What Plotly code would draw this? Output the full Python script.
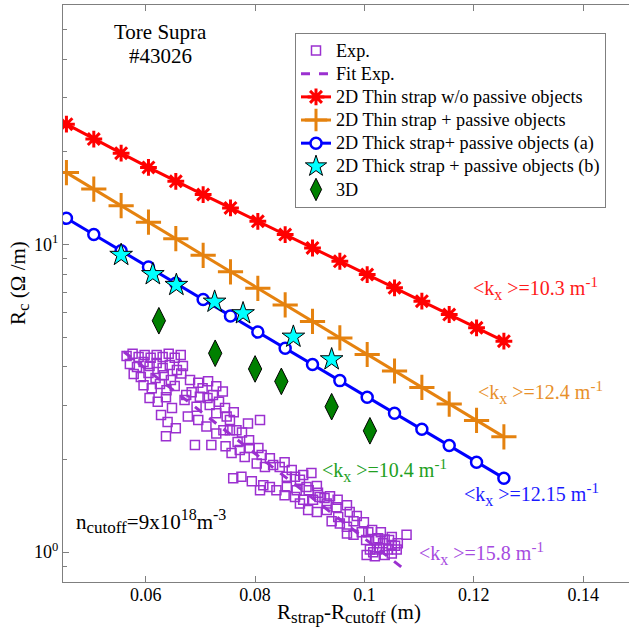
import plotly.graph_objects as go

# ---------------- data ----------------
d_sim = [0.0455, 0.0505, 0.0555, 0.0605, 0.0655, 0.0705, 0.0755, 0.0805, 0.0855,
         0.0905, 0.0955, 0.1005, 0.1055, 0.1105, 0.1155, 0.1205, 0.1255]
rc_thin_nopassive = [24.6, 22.0, 19.8, 17.8, 16.04, 14.52, 13.14, 11.89, 10.77, 9.74,
                     8.82, 7.98, 7.23, 6.54, 5.92, 5.36, 4.85]
rc_thin_passive = [17.12, 15.13, 13.37, 11.81, 10.44, 9.22, 8.15, 7.20, 6.36, 5.62,
                   4.97, 4.39, 3.88, 3.43, 3.03, 2.68, 2.37]
rc_thick_a = [12.16, 10.77, 9.54, 8.45, 7.48, 6.62, 5.86, 5.19, 4.60, 4.07, 3.61,
              3.19, 2.83, 2.51, 2.22, 1.96, 1.74]

d_thick_b = [0.0555, 0.0613, 0.0656, 0.0726, 0.0778, 0.0870, 0.0940]
rc_thick_b = [9.24, 8.00, 7.38, 6.51, 5.97, 5.01, 4.23]

d_3d = [0.0624, 0.0727, 0.0800, 0.0848, 0.0940, 0.1010]
rc_3d = [5.65, 4.43, 3.94, 3.59, 2.97, 2.48]

d_fit = [0.0560, 0.1080]
rc_fit = [4.48, 0.86]

d_exp = [0.0565, 0.0576, 0.0587, 0.0598, 0.0609, 0.0620, 0.0631, 0.0642, 0.0653, 0.0664,
         0.0571, 0.0584, 0.0596, 0.0607, 0.0620, 0.0631, 0.0644, 0.0657, 0.0668,
         0.0578, 0.0591, 0.0605, 0.0618, 0.0633, 0.0646,
         0.0596, 0.0611, 0.0626, 0.0638, 0.0653,
         0.0607, 0.0622, 0.0637, 0.0648, 0.0628, 0.0640, 0.0655, 0.0637,
         0.0665, 0.0681, 0.0696, 0.0714, 0.0729, 0.0741, 0.0674, 0.0699, 0.0723, 0.0693,
         0.0717, 0.0677, 0.0696, 0.0711, 0.0729, 0.0748, 0.0754, 0.0742, 0.0690, 0.0720,
         0.0729, 0.0754, 0.0766, 0.0787, 0.0809, 0.0757, 0.0772, 0.0790, 0.0806, 0.0781,
         0.0803, 0.0818, 0.0833, 0.0845, 0.0760, 0.0775, 0.0794, 0.0815, 0.0809, 0.0827,
         0.0839, 0.0858, 0.0873, 0.0888, 0.0903, 0.0858, 0.0876, 0.0894, 0.0913, 0.0854,
         0.0873, 0.0888, 0.0906, 0.0918, 0.0927, 0.0931, 0.0882, 0.0897, 0.0913, 0.0931,
         0.0949, 0.0968, 0.0952, 0.0940, 0.0955, 0.0968, 0.0980, 0.0995, 0.0968, 0.0980,
         0.1007, 0.1022, 0.1034, 0.1050, 0.1028, 0.1043, 0.1016, 0.1059, 0.1077,
         0.1037, 0.1050, 0.1025, 0.1010, 0.1037, 0.1019, 0.1056,
         0.0671, 0.0684, 0.0704, 0.0713, 0.0734, 0.0745, 0.0761, 0.0776, 0.0789, 0.0768,
         0.0746, 0.0812, 0.0827, 0.0854, 0.0867, 0.0882, 0.0898, 0.0915, 0.0937, 0.0951,
         0.0973, 0.0986, 0.0999, 0.1014, 0.1030, 0.1045, 0.1061, 0.1003, 0.1023, 0.1050,
         0.1004]
rc_exp = [4.34, 4.41, 4.31, 4.37, 4.28, 4.37, 4.31, 4.41, 4.28, 4.37,
          4.09, 4.00, 4.15, 4.03, 4.12, 3.97, 4.06, 3.91, 4.03,
          3.79, 3.71, 3.82, 3.68, 3.76, 3.63,
          3.49, 3.41, 3.52, 3.36, 3.47,
          3.17, 3.08, 3.19, 2.94, 2.79, 2.65, 2.53, 2.38,
          3.81, 3.63, 3.55, 3.59, 3.46, 3.33, 3.24, 3.20, 3.24, 2.97,
          3.01, 2.76, 2.69, 2.56, 2.83, 2.76, 2.69, 2.49, 2.23, 2.23,
          2.43, 2.49, 2.49, 2.62, 2.69, 2.10, 2.15, 2.18, 2.18, 2.04,
          1.94, 1.89, 1.92, 1.89, 1.74, 1.76, 1.70, 1.65, 1.59, 1.63,
          1.59, 1.76, 1.76, 1.78, 1.81, 1.63, 1.59, 1.63, 1.64, 1.53,
          1.51, 1.48, 1.48, 1.51, 1.50, 1.44, 1.44, 1.37, 1.35, 1.37,
          1.40, 1.42, 1.30, 1.26, 1.24, 1.21, 1.26, 1.16, 1.15, 1.14,
          1.16, 1.10, 1.07, 1.12, 1.03, 1.02, 1.00, 1.02, 1.14,
          1.10, 1.055, 1.11, 1.02, 0.98, 0.97, 1.05,
          3.12, 3.31, 3.41, 3.17, 3.08, 2.94, 2.85, 2.45, 2.31, 2.28,
          2.21, 2.07, 2.02, 1.96, 1.85, 1.72, 1.59, 1.56, 1.52, 1.48,
          1.35, 1.31, 1.25, 1.18, 1.16, 1.095, 1.07, 1.095, 1.02, 0.99,
          0.98]

x_tickvals = [0.06, 0.08, 0.10, 0.12, 0.14]
x_ticktext = ["0.06", "0.08", "0.1", "0.12", "0.14"]
y_tickvals = [1, 10]
y_ticktext = ["10<sup>0</sup>", "10<sup>1</sup>"]
y_minorvals = [0.8, 0.9, 2, 3, 4, 5, 6, 7, 8, 9, 20, 30, 40, 50, 60]

legend_names = ["Exp.", "Fit Exp.", "2D Thin strap w/o passive objects",
                "2D Thin strap + passive objects", "2D Thick strap+ passive objects (a)",
                "2D Thick strap + passive objects (b)", "3D"]

# ---------------- styling ----------------
FONT = "Liberation Serif"
PURPLE = "#9B30D0"
RED = "#FF0000"
ORANGE = "#E5820F"
BLUE = "#0000FF"
GREEN = "#008000"
AXCOL = "#7f7f7f"

def lg(name):
    return "<span style='font-size:18.2px'>" + name + "</span>"

def sub(t, size=17):
    return "<sub><span style='font-size:%spx'>%s</span></sub>" % (size, t)

def sup(t, size=16):
    return "<sup><span style='font-size:%spx'>%s</span></sup>" % (size, t)

fig = go.Figure()

fig.add_trace(go.Scatter(
    x=d_exp, y=rc_exp, mode="markers", name=lg(legend_names[0]),
    marker=dict(symbol="square-open", size=9, color=PURPLE, line=dict(width=1.5, color=PURPLE))))
fig.add_trace(go.Scatter(
    x=d_fit, y=rc_fit, mode="lines", name=lg(legend_names[1]),
    line=dict(color=PURPLE, width=3, dash="dash")))
fig.add_trace(go.Scatter(
    x=d_sim, y=rc_thin_nopassive, mode="lines+markers", name=lg(legend_names[2]),
    line=dict(color=RED, width=3),
    marker=dict(symbol="asterisk-open", size=14, color=RED, line=dict(width=3, color=RED))))
fig.add_trace(go.Scatter(
    x=d_sim, y=rc_thin_passive, mode="lines+markers", name=lg(legend_names[3]),
    line=dict(color=ORANGE, width=3),
    marker=dict(symbol="cross-thin-open", size=18, color=ORANGE, line=dict(width=3, color=ORANGE))))
fig.add_trace(go.Scatter(
    x=d_sim, y=rc_thick_a, mode="lines+markers", name=lg(legend_names[4]),
    line=dict(color=BLUE, width=3),
    marker=dict(symbol="circle", size=11, color="white", line=dict(width=2.5, color=BLUE))))
fig.add_trace(go.Scatter(
    x=d_thick_b, y=rc_thick_b, mode="markers", name=lg(legend_names[5]),
    marker=dict(symbol="star", size=17, color="#00FFFF", line=dict(width=1, color="black"))))
fig.add_trace(go.Scatter(
    x=d_3d, y=rc_3d, mode="markers", name=lg(legend_names[6]),
    marker=dict(symbol="diamond-tall", size=19, color=GREEN, line=dict(width=1, color="black"))))

fig.update_xaxes(
    range=[0.04487, 0.14838], tickmode="array", tickvals=x_tickvals, ticktext=x_ticktext,
    ticks="inside", ticklen=6, tickcolor=AXCOL, showline=True, linecolor=AXCOL, linewidth=1,
    mirror="ticks", showgrid=False, zeroline=False, automargin=False,
    ticklabelstandoff=-4,
    tickfont=dict(family=FONT, size=18, color="black"))
fig.update_yaxes(
    type="log", range=[-0.09691, 1.77815], tickmode="array", tickvals=y_tickvals,
    ticktext=y_ticktext, ticks="inside", ticklen=6, tickcolor=AXCOL, showline=True,
    linecolor=AXCOL, linewidth=1, mirror=False, showgrid=False, zeroline=False,
    automargin=False,
    minor=dict(tickvals=y_minorvals, ticks="inside", ticklen=4, tickcolor=AXCOL),
    tickfont=dict(family=FONT, size=18, color="black"))

W_PLOT = 566.0
H_PLOT = 577.0
def px(x):
    return (x - 63) / W_PLOT
def py(y):
    return 1 - (y - 5) / H_PLOT

def ann(text, x, y, color="black", size=20, xanchor="left", angle=0):
    fig.add_annotation(text=text, xref="paper", yref="paper", x=px(x), y=py(y),
                       xanchor=xanchor, yanchor="middle", showarrow=False,
                       textangle=angle, font=dict(family=FONT, size=size, color=color))

def kx(val):
    return "&lt;k" + sub("x", 16) + " &gt;=" + val + " m" + sup("-1", 15)

ann("Tore Supra", 160, 32, xanchor="center", size=21)
ann("#43026", 160, 56, xanchor="center", size=21)
ann(kx("10.3"), 471, 288, color="#FF1A1A")
ann(kx("12.4"), 476, 392, color="#E8902A")
ann(kx("12.15"), 462, 494, color="#1A1AFF")
ann(kx("10.4"), 320, 470, color="#22A022")
ann(kx("15.8"), 417, 553, color="#A64BE0")
ann("n" + sub("cutoff") + "=9x10" + sup("18") + "m" + sup("-3"), 74, 521, size=21)
ann("R" + sub("strap") + "-R" + sub("cutoff") + " (m)", 349, 613, xanchor="center", size=21)
ann("R" + sub("c") + " (Ω /m)", 20, 283, xanchor="center", angle=-90, size=21)

fig.update_layout(
    template="none",
    width=629, height=635,
    margin=dict(l=63, r=0, t=5, b=53, pad=0),
    paper_bgcolor="white", plot_bgcolor="white",
    font=dict(family=FONT, size=18, color="black"),
    showlegend=True,
    legend=dict(x=px(295), y=py(33), xanchor="left", yanchor="top",
                bgcolor="white", bordercolor=AXCOL, borderwidth=1,
                font=dict(family=FONT, size=15.5, color="black"),
                itemwidth=30, tracegroupgap=0),
)

fig.write_html("out.html", config={"displayModeBar": False},
               post_script="document.body.style.margin='0';document.body.style.overflow='hidden';")
